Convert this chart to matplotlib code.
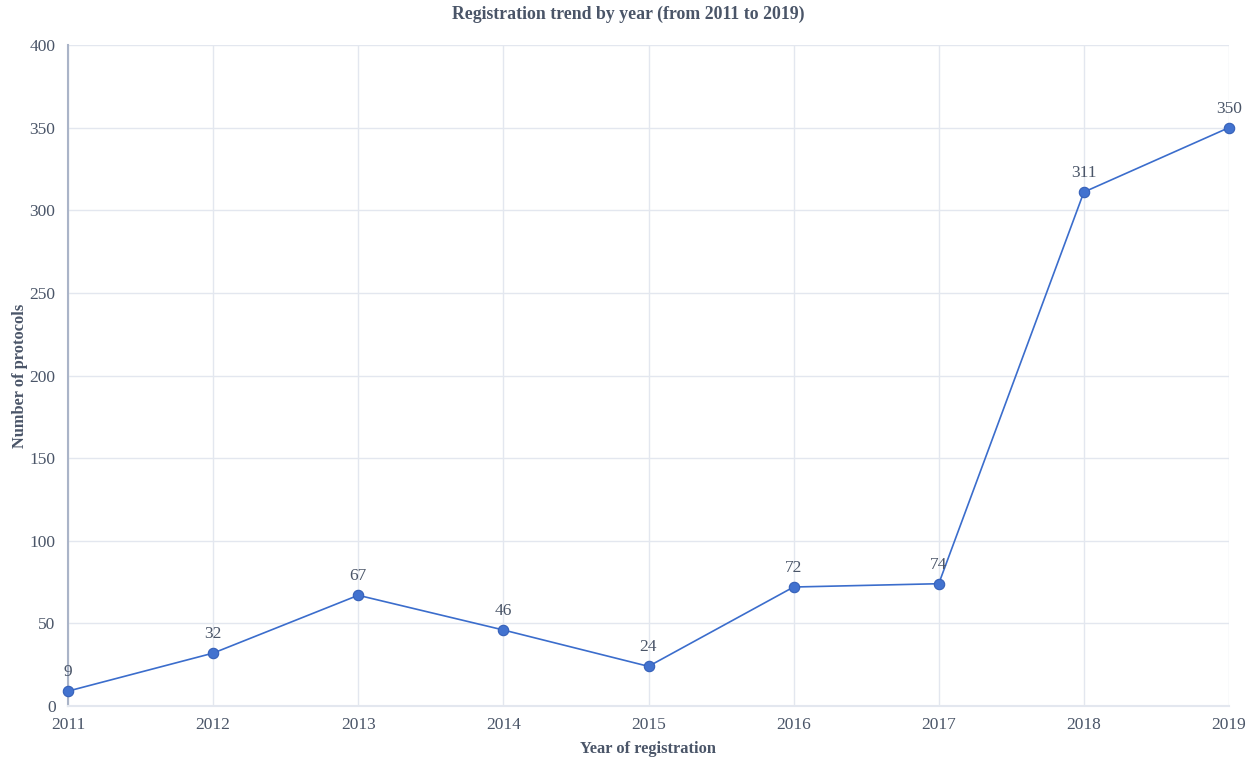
import matplotlib
matplotlib.use("Agg")
import matplotlib.pyplot as plt

years = ["2011", "2012", "2013", "2014", "2015", "2016", "2017", "2018", "2019"]
counts = [9, 32, 67, 46, 24, 72, 74, 311, 350]
yticks = [0, 50, 100, 150, 200, 250, 300, 350, 400]

plt.rcParams['font.family'] = ['Liberation Serif', 'DejaVu Serif']
text_color = '#4a5568'
grid_color = '#e3e7ef'
line_color = '#3b6dcc'

fig = plt.figure(figsize=(12.57, 7.60), dpi=100)
ax = fig.add_axes([68/1257, 1 - 706/760, (1229 - 68)/1257, (706 - 45)/760])

x = list(range(len(years)))
ax.plot(x, counts, color=line_color, lw=1.2, marker='o', markersize=7.5,
        markerfacecolor='#4272cf', markeredgecolor='#3560b8', markeredgewidth=0.8,
        zorder=3, clip_on=False)
for xi, v in zip(x, counts):
    ax.annotate(str(v), (xi, v), xytext=(0, 8), textcoords='offset points',
                ha='center', va='bottom', fontsize=12.5, color=text_color)

ax.set_xlim(0, len(years) - 1)
ax.set_ylim(0, 400)
ax.set_xticks(x)
ax.set_xticklabels(years)
ax.set_yticks(yticks)
ax.grid(True, color=grid_color, lw=1)
ax.set_axisbelow(True)
ax.tick_params(axis='both', length=0, labelsize=12.5, colors=text_color)
ax.tick_params(axis='x', pad=8)
ax.tick_params(axis='y', pad=9)
for s in ['top', 'right']:
    ax.spines[s].set_visible(False)
ax.spines['left'].set_color('#aab4c8')
ax.spines['left'].set_linewidth(1.5)
ax.spines['bottom'].set_color(grid_color)
ax.spines['bottom'].set_linewidth(1.5)

ax.set_xlabel('Year of registration', fontsize=11.8, fontweight='bold', color=text_color, labelpad=5.5)
ax.set_ylabel('Number of protocols', fontsize=11.8, fontweight='bold', color=text_color, labelpad=1)
fig.text(0.5, 1 - 14/760, 'Registration trend by year (from 2011 to 2019)', ha='center', va='center',
         fontsize=12.8, fontweight='bold', color=text_color)

fig.savefig('out.png', dpi=100, facecolor='white')
